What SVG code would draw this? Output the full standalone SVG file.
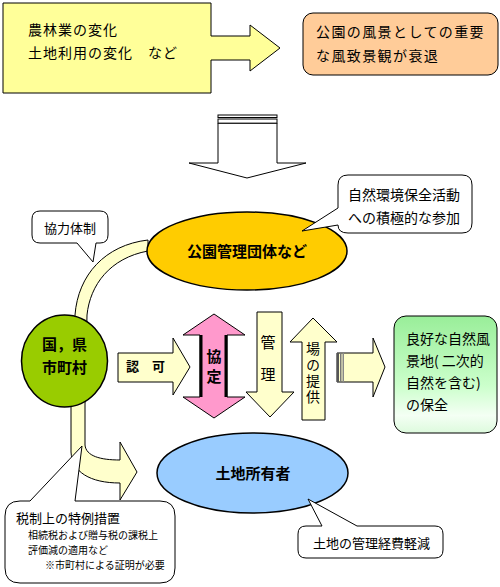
<svg xmlns="http://www.w3.org/2000/svg" width="500" height="587" viewBox="0 0 500 587">
<style>
text{font-family:"Noto Sans CJK JP","Noto Sans CJK SC",sans-serif;fill:#000}
.b{font-weight:bold}
.m{text-anchor:middle}
.v{writing-mode:vertical-rl}
.yl{fill:#FFFFCC;stroke:#000;stroke-width:1}
</style>
<defs>
<linearGradient id="gg" x1="0" y1="0" x2="0" y2="1">
<stop offset="0" stop-color="#99EE99"/>
<stop offset="0.6" stop-color="#CCFFCC"/>
<stop offset="0.85" stop-color="#F4FFF4"/>
<stop offset="1" stop-color="#DDFADD"/>
</linearGradient>
</defs>
<rect width="500" height="587" fill="#FFFFFF"/>

<g id="connectors">
<path id="band" class="yl" d="M148,240 C105,245 78,275 75,315 L71,405 L71,452 C72,472 90,483 120,483 L120,500 L137,472 L120,442 L120,460 C100,460 86,456 85,445 L85,405 L87,315 C90,285 110,258 148,251 Z"/>
<g id="down-arrow" fill="#FFFFFF" stroke="#000" stroke-width="1">
<rect x="218" y="115" width="59" height="2.5"/>
<rect x="218" y="119" width="59" height="4.3"/>
<polygon points="218,123.3 277,123.3 277,163 306,163 247,178 189,163 218,163"/>
</g>
<g id="ninka">
<polygon class="yl" points="118,353 173,353 173,338 190,367 173,395 173,382 118,382"/>
<text x="126" y="371" class="b" font-size="13">認　可</text>
</g>
<g id="kyotei">
<polygon fill="#FF99CC" stroke="#000" stroke-width="1" points="214,314 245,335 227,335 227,397 245,397 214,418 183,397 200,397 200,335 183,335"/>
<line x1="201" y1="335" x2="201" y2="397" stroke="#000" stroke-width="3"/>
<line x1="226" y1="335" x2="226" y2="397" stroke="#000" stroke-width="3"/>
<text x="214" y="349" class="b v" font-size="15" letter-spacing="5">協定</text>
</g>
<g id="kanri">
<polygon class="yl" points="257,312 282,312 282,392 294,392 270,417 246,392 257,392"/>
<text x="268" y="335" class="v" font-size="15" letter-spacing="17">管理</text>
</g>
<g id="bano-teikyo">
<polygon class="yl" points="313,318 337,342 325,342 325,420 302,420 302,342 290,342"/>
<text x="313" y="342" class="v" font-size="14" letter-spacing="2">場の提供</text>
</g>
<g id="to-result">
<polygon class="yl" points="337,353 373,353 373,338 385,367 373,397 373,382 337,382"/>
<rect x="337" y="353" width="2" height="29" fill="#555"/>
<rect x="340" y="353" width="1.5" height="29" fill="#777"/>
<rect x="342.5" y="353" width="1.5" height="29" fill="#888"/>
</g>
</g>

<g id="node-change">
<polygon fill="#FFFF99" stroke="#000" stroke-width="1" points="3,3 211,3 211,36 250,36 250,25 280,48 250,71 250,60 211,60 211,93 3,93"/>
<text x="28" y="35" font-size="14" letter-spacing="1">農林業の変化</text>
<text x="28" y="58" font-size="14" letter-spacing="1">土地利用の変化　など</text>
</g>

<g id="node-decline">
<rect x="303" y="13" width="195" height="62" rx="10" fill="#FFCC99" stroke="#000" stroke-width="1"/>
<text x="316" y="37" font-size="14" letter-spacing="1.4">公園の風景としての重要</text>
<text x="316" y="61" font-size="14" letter-spacing="1.4">な風致景観が衰退</text>
</g>

<g id="node-park-org">
<ellipse cx="247" cy="251" rx="100" ry="39" fill="#FFCC00" stroke="#000" stroke-width="1.5"/>
<text x="247" y="257" class="b m" font-size="15">公園管理団体など</text>
</g>

<g id="callout-activity">
<path fill="#FFFFFF" stroke="#000" stroke-width="1" d="M348,175 H462 Q472,175 472,185 V223 Q472,233 462,233 H348 Q338,233 338,225 L302,231 L338,208 V185 Q338,175 348,175 Z"/>
<text x="348" y="200" font-size="14">自然環境保全活動</text>
<text x="348" y="223" font-size="14">への積極的な参加</text>
</g>

<g id="callout-kyoryoku">
<path fill="#FFFFFF" stroke="#000" stroke-width="1" d="M40,211 H100 Q108,211 108,219 V235 Q108,243 100,243 H96 L93,262 L77,243 H40 Q32,243 32,235 V219 Q32,211 40,211 Z"/>
<text x="44" y="233" font-size="13">協力体制</text>
</g>

<g id="node-gov">
<ellipse cx="64.5" cy="361" rx="43" ry="46" fill="#99CC00" stroke="#000" stroke-width="1.5"/>
<text x="64.5" y="350" class="b m" font-size="15">国，県</text>
<text x="64.5" y="373" class="b m" font-size="15">市町村</text>
</g>

<g id="node-result">
<rect x="394" y="316" width="103" height="117" rx="12" fill="url(#gg)" stroke="#000" stroke-width="1"/>
<text x="406" y="344" font-size="14">良好な自然風</text>
<text x="406" y="366" font-size="14">景地( 二次的</text>
<text x="406" y="388" font-size="14">自然を含む)</text>
<text x="406" y="410" font-size="14">の保全</text>
</g>

<g id="node-landowner">
<ellipse cx="252.5" cy="473" rx="95.5" ry="40" fill="#99CCFF" stroke="#000" stroke-width="1.5"/>
<text x="253" y="479" class="b m" font-size="15">土地所有者</text>
</g>

<g id="callout-cost">
<path fill="#FFFFFF" stroke="#000" stroke-width="1" d="M306,526 H322 L308,499 L357,526 H435 Q443,526 443,534 V550 Q443,558 435,558 H306 Q298,558 298,550 V534 Q298,526 306,526 Z"/>
<text x="313" y="548" font-size="13">土地の管理経費軽減</text>
</g>

<g id="callout-tax">
<path fill="#FFFFFF" stroke="#000" stroke-width="1" d="M20,501 H30 L82,446 L75,501 H160 Q175,501 175,516 V568 Q175,583 160,583 H20 Q5,583 5,568 V516 Q5,501 20,501 Z"/>
<text x="16" y="523" font-size="13">税制上の特例措置</text>
<text x="28" y="539" font-size="10">相続税および贈与税の課税上</text>
<text x="28" y="554" font-size="10">評価減の適用など</text>
<text x="45" y="569" font-size="10">※市町村による証明が必要</text>
</g>
</svg>
